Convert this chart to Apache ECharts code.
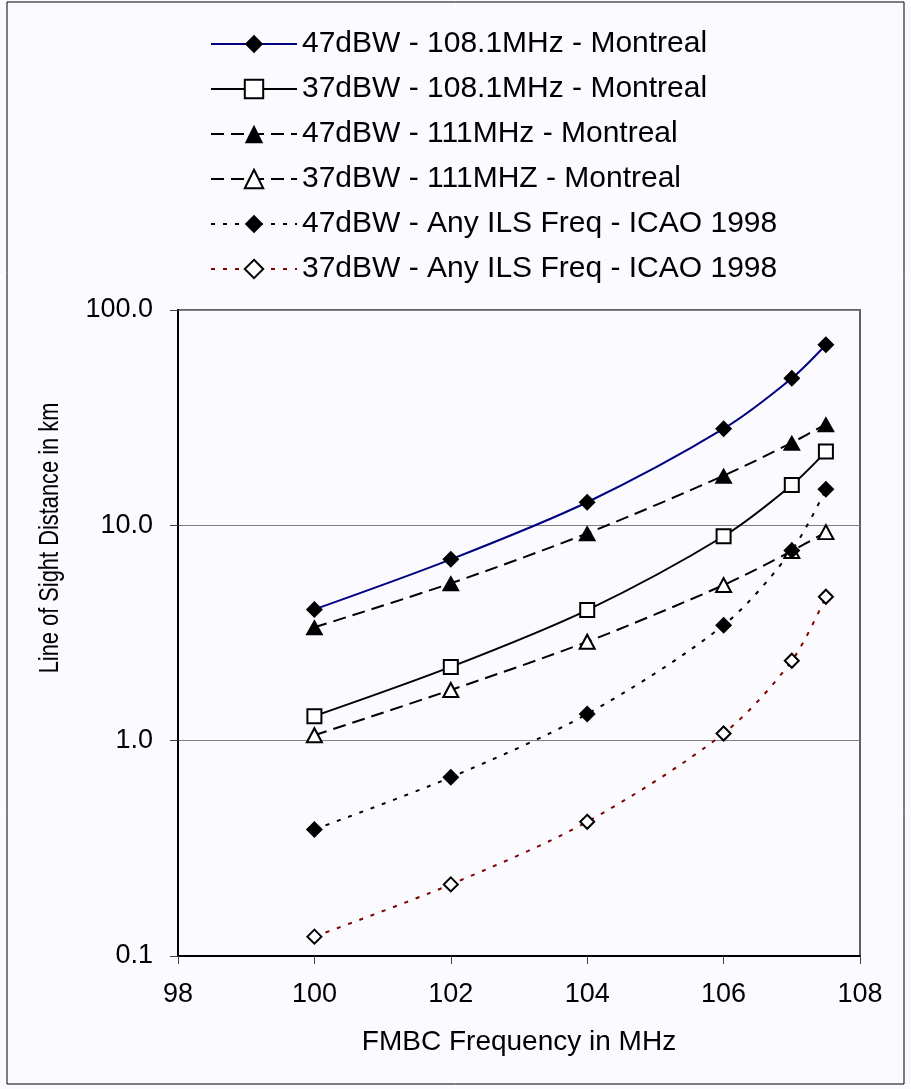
<!DOCTYPE html>
<html>
<head>
<meta charset="utf-8">
<script src="https://cdn.jsdelivr.net/npm/echarts@6/dist/echarts.min.js"></script>
<style>
  html, body { margin: 0; padding: 0; background: #fafaff; }
  #chart { width: 911px; height: 1089px; }
</style>
</head>
<body>
<div id="chart"></div>
<script>
// frequencies (MHz) of the measured points
const freqs = [100, 102, 104, 106, 107, 107.5]

// line of sight distance (km) per case
const montreal47_108 = [4.07, 6.95, 12.8, 28.1, 48.2, 69.0]
const montreal37_108 = [1.30, 2.20, 4.04, 8.9, 15.4, 22.0]
const montreal47_111 = [3.36, 5.38, 9.18, 17.0, 24.2, 29.5]
const montreal37_111 = [1.06, 1.72, 2.88, 5.28, 7.6, 9.3]
const icao47 = [0.387, 0.676, 1.33, 3.44, 7.65, 14.7]
const icao37 = [0.123, 0.215, 0.420, 1.08, 2.35, 4.66]

const seriesNames = [
  '47dBW - 108.1MHz - Montreal',
  '37dBW - 108.1MHz - Montreal',
  '47dBW - 111MHz - Montreal',
  '37dBW - 111MHZ - Montreal',
  '47dBW - Any ILS Freq - ICAO 1998',
  '37dBW - Any ILS Freq - ICAO 1998'
]

const pairs = (ys) => freqs.map((x, i) => [x, ys[i]])

const chart = echarts.init(document.getElementById('chart'))

const filled = { color: '#000', borderColor: '#000', borderWidth: 0 }
const hollow = { color: '#fff', borderColor: '#000', borderWidth: 2 }

const option = {
  backgroundColor: '#fafaff',
  animation: false,
  textStyle: { fontFamily: 'Liberation Sans, Arial, sans-serif', color: '#000' },
  legend: {
    orient: 'vertical',
    left: 205,
    top: 24,
    itemWidth: 86,
    itemHeight: 23,
    itemGap: 15,
    lineStyle: { width: 2 },
    textStyle: { fontSize: 30, color: '#000', lineHeight: 30 },
    data: seriesNames
  },
  grid: {
    left: 178,
    top: 310,
    width: 682,
    height: 646,
    show: true,
    borderColor: '#606060',
    borderWidth: 2,
    backgroundColor: 'transparent'
  },
  xAxis: {
    type: 'value',
    min: 98,
    max: 108,
    interval: 2,
    axisLine: { lineStyle: { color: '#000', width: 2 } },
    axisTick: { length: 8, lineStyle: { color: '#404040', width: 1 } },
    axisLabel: { fontSize: 27, color: '#000', margin: 25 },
    splitLine: { show: false }
  },
  yAxis: {
    type: 'log',
    logBase: 10,
    min: 0.1,
    max: 100,
    axisLine: { show: true, lineStyle: { color: '#000', width: 2 } },
    axisTick: { show: true, length: 8, lineStyle: { color: '#404040', width: 1 } },
    axisLabel: {
      fontSize: 27,
      color: '#000',
      margin: 25,
      formatter: (v) => Number(v).toFixed(1)
    },
    splitLine: { show: true, lineStyle: { color: '#808080', width: 1 } }
  },
  graphic: [
    {
      type: 'rect',
      shape: { x: 7, y: 2, width: 897, height: 1082 },
      style: { fill: 'none', stroke: '#000', lineWidth: 1 },
      silent: true
    },
    {
      type: 'text',
      x: 50,
      y: 538,
      rotation: Math.PI / 2,
      scaleX: 0.78,
      style: {
        text: 'Line of Sight Distance in km',
        fontSize: 28,
        fontFamily: 'Liberation Sans, Arial, sans-serif',
        fill: '#000',
        align: 'center',
        verticalAlign: 'middle'
      }
    },
    {
      type: 'text',
      x: 519,
      y: 1042,
      style: {
        text: 'FMBC Frequency in MHz',
        fontSize: 28,
        fontFamily: 'Liberation Sans, Arial, sans-serif',
        fill: '#000',
        align: 'center',
        verticalAlign: 'middle'
      }
    }
  ],
  series: [
    {
      name: seriesNames[0],
      type: 'line',
      smooth: 0.3,
      data: pairs(montreal47_108),
      symbol: 'diamond',
      symbolSize: 17,
      lineStyle: { color: '#000080', width: 2 },
      itemStyle: filled
    },
    {
      name: seriesNames[1],
      type: 'line',
      smooth: 0.3,
      data: pairs(montreal37_108),
      symbol: 'rect',
      symbolSize: 14,
      lineStyle: { color: '#000', width: 2 },
      itemStyle: hollow
    },
    {
      name: seriesNames[2],
      type: 'line',
      smooth: 0.3,
      data: pairs(montreal47_111),
      symbol: 'triangle',
      symbolSize: [18, 16],
      lineStyle: { color: '#000', width: 2, type: [13, 7] },
      itemStyle: filled
    },
    {
      name: seriesNames[3],
      type: 'line',
      smooth: 0.3,
      data: pairs(montreal37_111),
      symbol: 'triangle',
      symbolSize: [15, 14],
      lineStyle: { color: '#000', width: 2, type: [13, 7] },
      itemStyle: hollow
    },
    {
      name: seriesNames[4],
      type: 'line',
      smooth: 0.3,
      data: pairs(icao47),
      symbol: 'diamond',
      symbolSize: 17,
      lineStyle: { color: '#000', width: 2, type: [4, 8] },
      itemStyle: filled
    },
    {
      name: seriesNames[5],
      type: 'line',
      smooth: 0.3,
      data: pairs(icao37),
      symbol: 'diamond',
      symbolSize: 14,
      lineStyle: { color: '#800000', width: 2, type: [4, 8] },
      itemStyle: hollow
    }
  ]
}

chart.setOption(option)
</script>
</body>
</html>
